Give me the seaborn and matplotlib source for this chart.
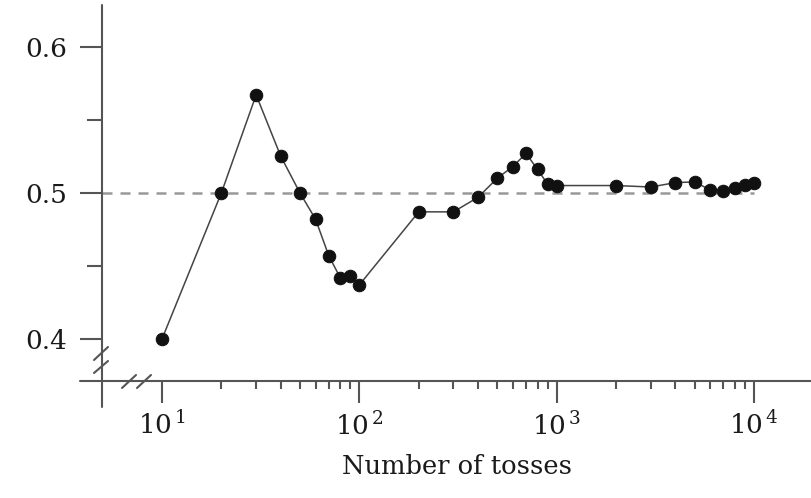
import numpy as np
import pandas as pd
import seaborn as sns
import matplotlib.pyplot as plt
from matplotlib.ticker import FixedLocator, NullFormatter
from matplotlib.lines import Line2D

# numero de lanzamientos y fraccion de caras
tosses = [10, 20, 30, 40, 50, 60, 70, 80, 90, 100,
          200, 300, 400, 500, 600, 700, 800, 900, 1000,
          2000, 3000, 4000, 5000, 6000, 7000, 8000, 9000, 10000]
frac_heads = [0.400, 0.500, 0.567, 0.525, 0.500, 0.482, 0.457, 0.442, 0.443, 0.437,
              0.487, 0.487, 0.497, 0.510, 0.518, 0.527, 0.516, 0.506, 0.505,
              0.505, 0.504, 0.507, 0.5075, 0.502, 0.5015, 0.503, 0.5055, 0.507]
y_ticks = [0.4, 0.5, 0.6]
y_minor = [0.45, 0.55]
x_ticks = [10, 100, 1000, 10000]
x_labels = [r"$10^{\,1}$", r"$10^{\,2}$", r"$10^{\,3}$", r"$10^{\,4}$"]
x_minor = [m * 10 ** d for d in (1, 2, 3) for m in range(2, 10)]

df = pd.DataFrame({"tosses": tosses, "frac": frac_heads})

sns.set_style("ticks")
plt.rcParams["font.family"] = ["DejaVu Serif"]
plt.rcParams["mathtext.fontset"] = "dejavuserif"

spine_c = "#555555"
fig = plt.figure(figsize=(8.11, 4.98), dpi=100)
ax = fig.add_axes([102 / 811, 117 / 498, 709 / 811, 376 / 498])

ax.set_xscale("log")
ax.set_xlim(10 ** 0.696, 10 ** 4.289)
ax.set_ylim(0.3713, 0.6285)

# linea de referencia en 0.5
ax.hlines(0.5, 10 ** 0.696, 10000, colors="#999999", linestyles=(0, (4, 3.2)), linewidth=1.8, zorder=1)

sns.lineplot(data=df, x="tosses", y="frac", ax=ax, color="#444444", linewidth=1.1,
             marker="o", markersize=9, markerfacecolor="#111111", markeredgecolor="#111111",
             zorder=3)

# ejes en cruz con marcas de corte
for s in ax.spines.values():
    s.set_visible(False)
kw = dict(transform=ax.transAxes, clip_on=False, color=spine_c, linewidth=1.5)
ax.add_line(Line2D([0, 0], [-26 / 376, 1], **kw))
ax.add_line(Line2D([-22 / 709, 1], [0, 0], **kw))
for y0, y1 in [(21, 34), (8, 20)]:
    ax.add_line(Line2D([-8 / 709, 6 / 709], [y0 / 376, y1 / 376], **kw))
for dx in [21, 36]:
    ax.add_line(Line2D([(dx - 1) / 709, (dx + 13) / 709], [-7 / 376, 6 / 376], **kw))

ax.yaxis.set_major_locator(FixedLocator(y_ticks))
ax.yaxis.set_minor_locator(FixedLocator(y_minor))
ax.set_yticklabels(["0.4", "0.5", "0.6"])
ax.xaxis.set_major_locator(FixedLocator(x_ticks))
ax.set_xticklabels(x_labels)
ax.xaxis.set_minor_locator(FixedLocator(x_minor))
ax.xaxis.set_minor_formatter(NullFormatter())

ax.tick_params(axis="y", which="major", direction="out", length=16, width=1.5, color=spine_c,
               labelsize=19, pad=9, labelcolor="#1a1a1a")
ax.tick_params(axis="y", which="minor", direction="out", length=11, width=1.5, color=spine_c)
ax.tick_params(axis="x", which="major", direction="out", length=16, width=1.5, color=spine_c,
               labelsize=19, pad=6, labelcolor="#1a1a1a")
ax.tick_params(axis="x", which="minor", direction="out", length=6, width=1.5, color=spine_c)

ax.set_xlabel("Number of tosses", fontsize=18.5, color="#1a1a1a", labelpad=10)
ax.set_ylabel("")

fig.savefig("out.png", dpi=100)
